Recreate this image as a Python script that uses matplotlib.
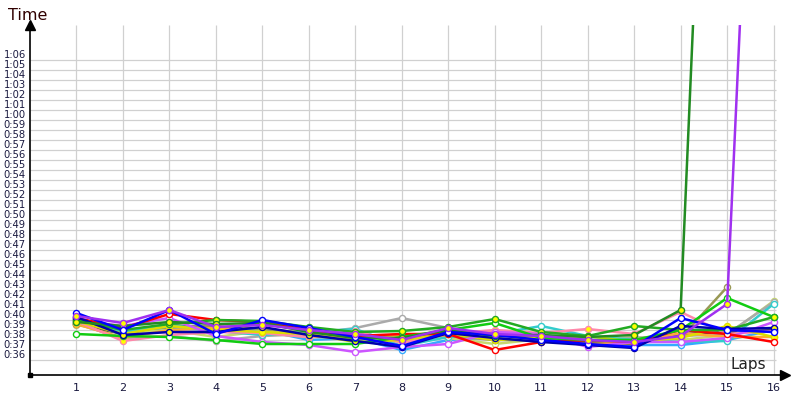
import numpy as np
import matplotlib
matplotlib.use("Agg")
import matplotlib.pyplot as plt

nan = np.nan
laps = list(range(1, 17))

# lap times in seconds, one list per driver
blue       = [40.7, 39.0, 41.0, 38.6, 40.0, 39.2, 38.3, 37.4, 38.8, 38.5, 38.0, 37.6, 37.3, 40.2, 39.0, 38.8]
red        = [40.2, 39.2, 40.6, 40.0, 39.8, 39.0, 38.4, 38.6, 38.6, 37.0, 37.8, 38.0, 37.8, 39.0, 38.6, 37.8]
dark_green = [39.8, 39.4, 39.8, 39.6, 39.7, 38.8, 38.2, 38.2, 39.0, 38.4, 38.5, 38.3, 38.5, 41.0, 148.0, nan]
lime       = [38.6, 38.4, 38.3, 38.0, 37.6, 37.6, 37.6, 38.3, 39.0, 39.7, 38.2, 38.0, 38.0, 39.0, 42.2, 40.3]
purple     = [40.4, 39.7, 41.0, 39.3, 39.5, 39.0, 38.6, 38.0, 39.2, 38.6, 38.4, 38.0, 37.8, 38.4, 41.6, 143.0]
violet     = [40.0, 39.4, 40.2, 38.4, 37.8, 37.5, 36.8, 37.3, 37.6, 38.8, 38.6, 37.3, 37.8, 37.8, 38.2, 39.8]
pink       = [39.9, 37.9, 38.5, 38.8, 38.7, 38.3, 38.9, 37.7, 38.6, 39.0, 38.7, 39.1, 38.6, 40.8, 38.6, 38.9]
gray       = [39.6, 38.2, 38.4, 37.9, 38.4, 38.6, 39.2, 40.2, 39.2, 38.2, 38.4, 38.0, 38.2, 38.4, 38.6, 41.8]
dark_gray  = [39.6, 38.6, 39.5, 39.2, 39.6, 39.0, 38.5, 38.0, 38.8, 38.0, 38.2, 37.8, 37.6, 38.6, 38.8, 39.0]
cyan       = [39.8, 38.8, 39.5, 38.9, 38.5, 38.8, 39.1, 37.4, 38.3, 38.6, 39.4, 38.4, 38.0, 37.8, 37.9, 41.6]
sky        = [40.1, 38.8, 39.2, 39.0, 39.0, 38.0, 38.2, 37.0, 38.0, 38.3, 37.9, 37.8, 37.5, 37.5, 38.0, 39.0]
yellow     = [39.9, 38.6, 39.4, 39.0, 38.8, 38.6, 37.8, 38.0, 38.6, 38.0, 38.2, 38.4, 37.8, 38.2, 39.4, 38.3]
olive      = [39.7, 38.9, 39.3, 39.4, 39.1, 38.7, 38.1, 38.6, 38.4, 38.0, 38.0, 38.0, 37.7, 38.2, 43.3, nan]
khaki      = [39.5, 38.7, 39.0, 38.3, 38.9, 38.4, 38.0, 38.4, 38.2, 37.6, 38.1, 37.9, 38.3, 38.0, 38.5, 41.9]
orange     = [39.6, 38.2, 39.0, 39.2, 38.7, 38.3, 38.4, 38.5, 38.4, 38.8, 38.0, 37.6, 37.7, 38.7, 38.3, 38.3]
green2     = [40.0, 39.0, 39.6, 40.0, 39.9, 39.3, 38.8, 38.9, 39.3, 40.1, 38.8, 38.4, 39.4, 39.0, 39.0, 40.3]
navy       = [40.3, 38.5, 38.8, 38.8, 39.3, 38.5, 37.9, 37.3, 38.7, 38.2, 37.8, 37.5, 37.2, 39.4, 39.1, 39.2]

series = [
    (sky, "#33aaff", "white"),
    (khaki, "#c8d870", "white"),
    (gray, "#aaaaaa", "white"),
    (dark_gray, "#555555", "white"),
    (olive, "#999955", "white"),
    (orange, "#ffaa33", "yellow"),
    (cyan, "#33cccc", "white"),
    (pink, "#ff88aa", "yellow"),
    (yellow, "#dddd00", "yellow"),
    (violet, "#cc55ff", "white"),
    (red, "#ff0000", "white"),
    (lime, "#11cc11", "white"),
    (green2, "#22aa22", "yellow"),
    (navy, "#0000aa", "yellow"),
    (dark_green, "#228b22", "yellow"),
    (blue, "#0000ff", "white"),
    (purple, "#a030f0", "yellow"),
]

fig = plt.figure(figsize=(8, 4), dpi=100)
ax = fig.add_axes([0.0375, 0.0625, 0.944, 0.875])
ax.set_xlim(0, 16.25)
ax.set_ylim(34.5, 69.5)

# grid
ax.hlines(range(36, 67), 0, 16.06, color="#d0d0d0", lw=0.9, zorder=0)
ax.vlines(laps, 34.5, 69.5, color="#d0d0d0", lw=0.9, zorder=0)

for vals, col, face in series:
    ax.plot(laps, vals, color=col, lw=1.8, marker="o", ms=4.4,
            mfc=face, mec=col, mew=1.0, zorder=3, clip_on=True)

for s in ["top", "right"]:
    ax.spines[s].set_visible(False)
ax.spines["left"].set_linewidth(1.2)
ax.spines["bottom"].set_linewidth(1.2)

# arrow heads and origin square
ax.plot(0, 69.5, marker="^", color="black", ms=7, clip_on=False, zorder=5)
ax.plot(16.25, 34.5, marker=">", color="black", ms=7, clip_on=False, zorder=5)
ax.plot(0, 34.5, marker="s", color="black", ms=3, clip_on=False, zorder=5)

yt = list(range(36, 67))
ax.set_yticks(yt)
ax.set_yticklabels(["%d:%02d" % (v // 60, v % 60) for v in yt])
for lbl in ax.get_yticklabels():
    lbl.set_va("bottom")
ax.set_xticks(laps)
ax.tick_params(axis="y", length=0, pad=3, labelsize=7.2, labelcolor="#1a1a40")
ax.tick_params(axis="x", length=0, pad=6, labelsize=8, labelcolor="#1a1a40")

fig.text(0.01, 0.962, "Time", fontsize=11.5, color="#300000", va="center")
fig.text(0.913, 0.088, "Laps", fontsize=11, color="#222222", va="center")

fig.savefig("out.png", dpi=100)
